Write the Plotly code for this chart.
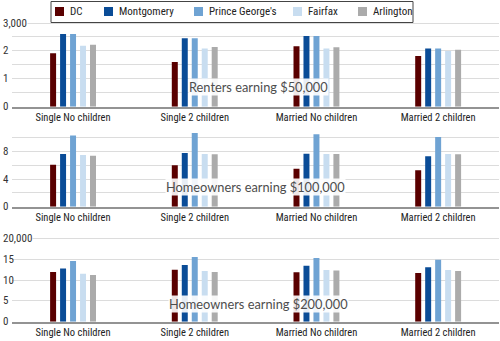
import plotly.graph_objects as go

categories = ["Single No children", "Single 2 children", "Married No children", "Married 2 children"]
counties = ["DC", "Montgomery", "Prince George's", "Fairfax", "Arlington"]
colors = ["#5a0000", "#0a4c97", "#6fa3d3", "#c8ddf0", "#ababab"]

# Renters earning $50,000 (thousands of dollars)
renters_50k = {
    "DC":              [1.92, 1.60, 2.17, 1.82],
    "Montgomery":      [2.61, 2.45, 2.53, 2.09],
    "Prince George's": [2.61, 2.45, 2.53, 2.09],
    "Fairfax":         [2.18, 2.09, 2.09, 2.00],
    "Arlington":       [2.22, 2.14, 2.13, 2.04],
}
# Homeowners earning $100,000
owners_100k = {
    "DC":              [6.07, 6.00, 5.50, 5.26],
    "Montgomery":      [7.60, 7.76, 7.66, 7.28],
    "Prince George's": [10.30, 10.65, 10.46, 10.07],
    "Fairfax":         [7.47, 7.60, 7.60, 7.60],
    "Arlington":       [7.37, 7.56, 7.60, 7.56],
}
# Homeowners earning $200,000
owners_200k = {
    "DC":              [11.95, 12.50, 11.90, 11.70],
    "Montgomery":      [12.80, 13.60, 13.45, 13.10],
    "Prince George's": [14.60, 15.55, 15.30, 14.90],
    "Fairfax":         [11.50, 12.20, 12.40, 12.40],
    "Arlington":       [11.20, 11.95, 12.30, 12.20],
}

panel_titles = ["Renters earning $50,000", "Homeowners earning $100,000", "Homeowners earning $200,000"]
gridvals = [[0, 0.5, 1, 1.5, 2, 2.5, 3], [0, 2, 4, 6, 8, 10], [0, 5, 10, 15, 20]]
ytickvals = [[0, 1, 2, 3], [0, 4, 8], [0, 5, 10, 15, 20]]
yticktext = [["0", "1", "2", "3,000"], ["0", "4", "8"], ["0", "5", "10", "15", "20,000"]]
yranges = [[0, 3.05], [0, 11.5], [0, 20.3]]

H = 341.0
W = 500.0
def fy(px):
    return 1 - px / H

ydomains = [[fy(106.7), fy(21.6)], [fy(206.7), fy(127.1)], [fy(321.7), fy(237.2)]]
xdomain = [12.2 / W, 499 / W]

datasets = [renters_50k, owners_100k, owners_200k]

COND = "Roboto Condensed, Liberation Sans Narrow, Arial Narrow, sans-serif"
catfont = dict(family=COND, size=10.5, color="#222")
tickfont = dict(family=COND, size=11, color="#333")

fig = go.Figure()
for p, data in enumerate(datasets):
    sfx = "" if p == 0 else str(p + 1)
    for i, c in enumerate(counties):
        fig.add_trace(go.Bar(
            x=categories, y=data[c], name=c,
            marker=dict(color=colors[i], line=dict(width=0)),
            xaxis="x" + sfx, yaxis="y" + sfx,
            showlegend=False, legendgroup=c,
        ))
    fig.layout["xaxis" + sfx] = dict(
        domain=xdomain, anchor="y" + sfx, showgrid=False,
        showline=True, linecolor="#939393", linewidth=2,
        ticks="", tickfont=catfont, fixedrange=True,
    )
    fig.layout["yaxis" + sfx] = dict(
        domain=ydomains[p], anchor="x" + sfx, range=yranges[p],
        tickmode="array", tickvals=gridvals[p], showticklabels=False,
        showgrid=True, gridcolor="#dcdcdc", gridwidth=1, zeroline=False,
        ticks="", showline=False, fixedrange=True,
    )
    # y tick labels, left-aligned at the page edge, placed on the axis scale
    for v, t in zip(ytickvals[p], yticktext[p]):
        fig.add_annotation(
            text=t, x=2 / W, y=v, xref="paper", yref="y" + sfx,
            xanchor="left", yanchor="middle", showarrow=False,
            font=tickfont, bgcolor="white" if t.endswith("000") else None, borderpad=0,
        )

ann_pos = [(258 / W, fy(86.7)), (255 / W, fy(186.7)), (258 / W, fy(304))]
for (ax, ay), t in zip(ann_pos, panel_titles):
    fig.add_annotation(
        text=t, x=ax, y=ay, xref="paper", yref="paper", showarrow=False,
        xanchor="center", yanchor="middle",
        font=dict(family="Lato, Segoe UI, sans-serif", size=12.8, color="#4d4d4d"),
        bgcolor="rgba(255,255,255,0.9)", borderpad=0,
    )

# Legend box (key built from the counties / colors lists)
legend_box = (51, 1.5, 413, 22.5)          # x0, y0, x1, y1 in px
legend_text_x = [68, 117, 207, 306, 371]   # px
marker_size = 9
legend_cy = 11.5
fig.add_shape(type="rect", xref="paper", yref="paper",
              x0=legend_box[0] / W, x1=legend_box[2] / W,
              y0=fy(legend_box[3]), y1=fy(legend_box[1]),
              line=dict(color="#444", width=1), fillcolor="white", layer="above")
for c, col, tx in zip(counties, colors, legend_text_x):
    mx0 = tx - 4 - marker_size
    fig.add_shape(type="rect", xref="paper", yref="paper",
                  x0=mx0 / W, x1=(mx0 + marker_size) / W,
                  y0=fy(legend_cy + marker_size / 2), y1=fy(legend_cy - marker_size / 2),
                  line=dict(width=0), fillcolor=col, layer="above")
    fig.add_annotation(text=c, x=tx / W, y=fy(legend_cy), xref="paper", yref="paper",
                       xanchor="left", yanchor="middle", showarrow=False,
                       font=dict(family=COND, size=11, color="#222"))

fig.update_layout(
    width=500, height=341,
    margin=dict(l=0, r=0, t=0, b=0),
    paper_bgcolor="white", plot_bgcolor="white",
    barmode="group", bargap=0.59, bargroupgap=0.4,
    showlegend=False,
)

fig.write_html("out.html")
